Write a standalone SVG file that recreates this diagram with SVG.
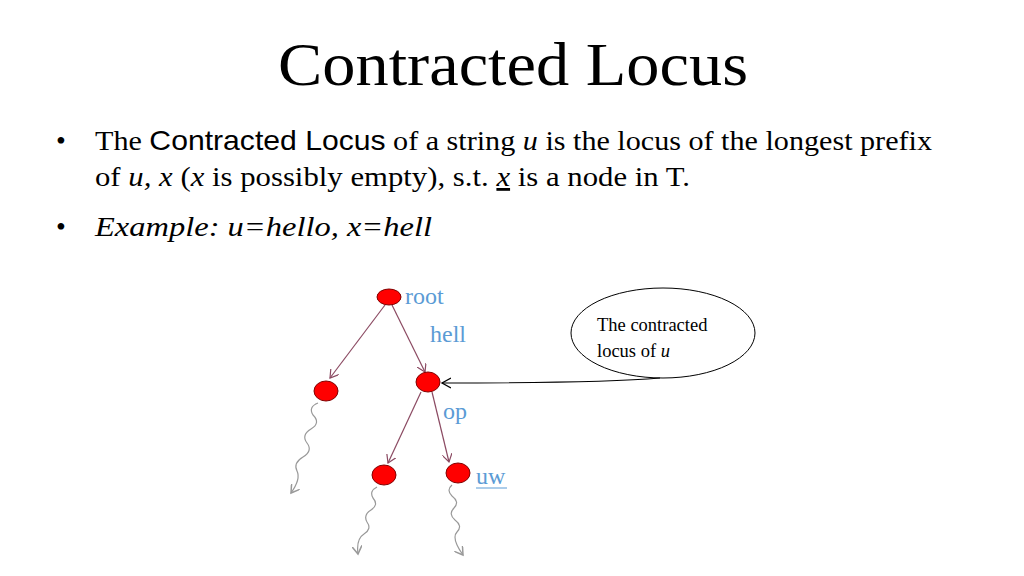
<svg xmlns="http://www.w3.org/2000/svg" width="1024" height="576" viewBox="0 0 1024 576">
<style>
.b{font-family:"Liberation Serif",serif;font-size:28px;fill:#000}
.lbl{font-family:"Liberation Serif",serif;font-size:24px;fill:#5b9bd5}
.n{fill:#ff0000;stroke:#800000;stroke-width:1}
.e{stroke:#8b4a62;stroke-width:1.2;fill:none;marker-end:url(#ah)}
.w{stroke:#999;stroke-width:1.2;fill:none;marker-end:url(#gh)}
</style>
<defs>
<marker id="ah" markerWidth="10" markerHeight="10" refX="8" refY="5" orient="auto" markerUnits="userSpaceOnUse"><path d="M0,0 L8,5 L0,10" fill="none" stroke="#8b4a62" stroke-width="1.2"/></marker>
<marker id="gh" markerWidth="10" markerHeight="10" refX="8" refY="5" orient="auto" markerUnits="userSpaceOnUse"><path d="M0,0 L8,5 L0,10" fill="none" stroke="#999" stroke-width="1.5"/></marker>
<marker id="kh" markerWidth="12" markerHeight="12" refX="9" refY="6" orient="auto" markerUnits="userSpaceOnUse"><path d="M0,1 L9,6 L0,11" fill="none" stroke="#000" stroke-width="1.3"/></marker>
</defs>
<rect width="1024" height="576" fill="#fff"/>
<text x="278" y="85" textLength="470" lengthAdjust="spacingAndGlyphs" font-family="Liberation Serif,serif" font-size="62">Contracted Locus</text>
<text x="56" y="150" class="b">•</text>
<text x="95" y="150" class="b" textLength="837" lengthAdjust="spacingAndGlyphs">The <tspan font-family="Liberation Sans Narrow,Liberation Sans,sans-serif">Contracted Locus</tspan> of a string <tspan font-style="italic">u</tspan> is the locus of the longest prefix</text>
<text x="95" y="186" class="b" textLength="595" lengthAdjust="spacingAndGlyphs">of <tspan font-style="italic">u, x</tspan> (<tspan font-style="italic">x</tspan> is possibly empty), s.t. <tspan font-style="italic" text-decoration="underline">x</tspan> is a node in T.</text>
<text x="56" y="236" class="b">•</text>
<text x="95" y="236" class="b" font-style="italic" textLength="337" lengthAdjust="spacingAndGlyphs">Example:   u=hello, x=hell</text>
<g id="connectors">
<path class="e" d="M385,305 L330,378"/>
<path class="e" d="M392,305 L425,372"/>
<path class="e" d="M421,392 L388,463"/>
<path class="e" d="M432,392 L449,462"/>
<path class="w" d="M318,403 q-10,4 -5,12 q8,8 -2,14 q-10,6 -4,14 q6,8 -4,14 q-10,6 -6,14 q4,8 -6,22"/>
<path class="w" d="M377,487 q-8,4 -4,11 q6,7 -2,12 q-8,5 -4,12 q5,7 -3,12 q-8,5 -6,20"/>
<path class="w" d="M452,485 q-6,5 0,11 q8,6 2,12 q-6,6 1,12 q8,6 2,12 q-6,6 6,23"/>
<path d="M660,378 Q600,383 442,383" fill="none" stroke="#000" stroke-width="1.2" marker-end="url(#kh)"/>
</g>
<g id="root"><ellipse class="n" cx="389" cy="297" rx="12" ry="8"/><text class="lbl" x="405" y="304">root</text></g>
<g id="left"><ellipse class="n" cx="326" cy="391" rx="12" ry="10"/></g>
<g id="hell"><ellipse class="n" cx="428" cy="382" rx="12" ry="10"/><text class="lbl" x="430" y="342">hell</text></g>
<g id="bl"><ellipse class="n" cx="384" cy="475" rx="12" ry="10"/></g>
<g id="uw"><ellipse class="n" cx="458" cy="473" rx="12" ry="10"/><text class="lbl" x="443" y="419">op</text><text class="lbl" x="476" y="484">uw</text><line x1="476" y1="488" x2="507" y2="488" stroke="#5b9bd5" stroke-width="1"/></g>
<g id="callout"><ellipse cx="663" cy="333" rx="92" ry="45" fill="none" stroke="#000" stroke-width="1"/>
<text x="597" y="331" font-family="Liberation Serif,serif" font-size="18.5">The contracted</text>
<text x="597" y="357" font-family="Liberation Serif,serif" font-size="18.5">locus of  <tspan font-style="italic">u</tspan></text></g>
</svg>
